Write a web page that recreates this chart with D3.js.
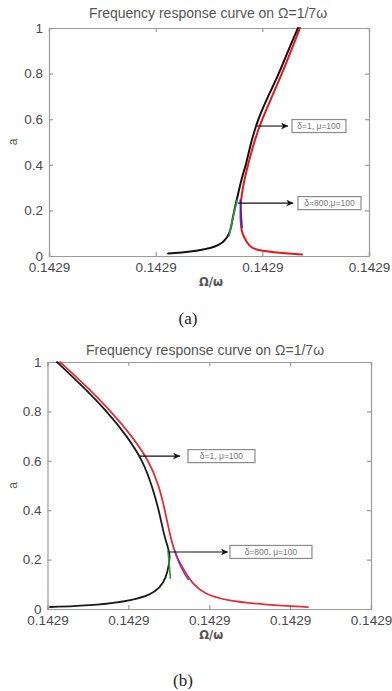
<!DOCTYPE html>
<html><head><meta charset="utf-8">
<script src="https://cdn.jsdelivr.net/npm/d3@7"></script>
<style>
html,body{margin:0;padding:0;background:#fff;}
svg{display:block;}
</style></head>
<body>
<svg id="chart" width="392" height="691"></svg>
<script>
// ---------- DATA ----------
const titleText = "Frequency response curve on \u03a9=1/7\u03c9";
const xLabel = "\u03a9/\u03c9";
const yLabel = "a";
const yTicks = [0, 0.2, 0.4, 0.6, 0.8, 1];
const yTickLabels = ["0", "0.2", "0.4", "0.6", "0.8", "1"];

// x values are offsets (×1e-6) from 0.142857 — all ticks read 0.1429
const xTicksA = [0, 1, 2, 3];
const xTickLabelsA = ["0.1429", "0.1429", "0.1429", "0.1429"];
const xTicksB = [0, 1, 2, 3, 4];
const xTickLabelsB = ["0.1429", "0.1429", "0.1429", "0.1429", "0.1429"];

// Panel (a)
const aBlackX = [1.116, 1.322, 1.537, 1.641, 1.697, 1.716, 1.737, 1.762, 1.786, 1.812, 1.847, 1.894, 1.959, 2.053, 2.156, 2.241, 2.334];
const aBlackY = [0.011, 0.018, 0.035, 0.06, 0.1, 0.15, 0.2, 0.25, 0.3, 0.35, 0.4, 0.5, 0.6, 0.7, 0.8, 0.9, 1.0];
const aRedX = [2.353, 2.269, 2.184, 2.091, 1.997, 1.922, 1.866, 1.828, 1.8, 1.795, 1.795, 1.8, 1.809, 1.856, 1.903, 1.95, 2.166, 2.372];
const aRedY = [1.0, 0.9, 0.8, 0.7, 0.6, 0.5, 0.4, 0.33, 0.25, 0.2, 0.17, 0.13, 0.1, 0.057, 0.035, 0.026, 0.013, 0.007];
const aGreenX = [1.69, 1.715, 1.74, 1.765];
const aGreenY = [0.09, 0.15, 0.2, 0.245];
const aBlueX = [1.792, 1.8, 1.805, 1.81];
const aBlueY = [0.245, 0.2, 0.16, 0.125];

// Panel (b)
const bBlackX = [0.031, 0.649, 1.057, 1.267, 1.391, 1.465, 1.502, 1.514, 1.489, 1.44, 1.378, 1.291, 1.18, 0.983, 0.736, 0.439, 0.117];
const bBlackY = [0.008, 0.016, 0.036, 0.057, 0.085, 0.126, 0.178, 0.22, 0.25, 0.3, 0.4, 0.5, 0.6, 0.7, 0.8, 0.9, 1.0];
const bRedX = [0.155, 0.488, 0.785, 1.044, 1.255, 1.378, 1.452, 1.514, 1.564, 1.613, 1.7, 1.799, 1.947, 2.194, 2.713, 3.22];
const bRedY = [1.0, 0.9, 0.8, 0.7, 0.6, 0.5, 0.4, 0.3, 0.24, 0.2, 0.15, 0.1, 0.06, 0.035, 0.016, 0.008];
const bGreenX = [1.49, 1.5, 1.51, 1.52];
const bGreenY = [0.235, 0.2, 0.16, 0.125];
const bPurpleX = [1.575, 1.62, 1.68, 1.74];
const bPurpleY = [0.235, 0.19, 0.15, 0.12];

// annotations: [xStart, xTip, y, boxX0, boxX1, text]
const aNotes = [
  [1.95, 2.241, 0.57, 2.278, 2.784, "\u03b4=1, \u03bc=100"],
  [1.77, 2.29, 0.232, 2.334, 2.925, "\u03b4=800,\u03bc=100"]
];
const bNotes = [
  [1.143, 1.638, 0.619, 1.737, 2.565, "\u03b4=1, \u03bc=100"],
  [1.489, 2.231, 0.231, 2.256, 3.27, "\u03b4=800, \u03bc=100"]
];

// ---------- DRAW ----------
const svg = d3.select("#chart");
const defs = svg.append("defs");
defs.append("marker").attr("id", "arr").attr("viewBox", "0 0 10 10")
  .attr("refX", 10).attr("refY", 5).attr("markerWidth", 9).attr("markerHeight", 7)
  .attr("markerUnits", "userSpaceOnUse").attr("orient", "auto")
  .append("path").attr("d", "M0,0 L10,5 L0,10 L3,5 Z").attr("fill", "#111");

function panel(cfg) {
  const g = svg.append("g");
  const x = d3.scaleLinear().domain(cfg.xDomain).range([cfg.left, cfg.right]);
  const y = d3.scaleLinear().domain([0, 1]).range([cfg.bottom, cfg.top]);
  const axCol = "#9a9a9a", txtCol = "#4a4a4a";

  // title
  g.append("text").attr("x", cfg.titleX).attr("y", cfg.titleY)
    .attr("text-anchor", "middle").attr("font-family", "Liberation Sans, Arial, sans-serif")
    .attr("font-size", 14).attr("fill", "#555").text(titleText);

  // axes (matlab box, inward ticks)
  const tl = 4;
  const bottomAx = d3.axisBottom(x).tickValues(cfg.xTicks).tickSize(-tl).tickPadding(6)
    .tickFormat((d, i) => cfg.xTickLabels[i]);
  const topAx = d3.axisTop(x).tickValues(cfg.xTicks).tickSize(-tl).tickFormat("");
  const leftAx = d3.axisLeft(y).tickValues(yTicks).tickSize(-tl).tickPadding(6)
    .tickFormat((d, i) => yTickLabels[i]);
  const rightAx = d3.axisRight(y).tickValues(yTicks).tickSize(-tl).tickFormat("");

  const styleAx = sel => {
    sel.selectAll("path,line").attr("stroke", axCol).attr("stroke-width", 1.2);
    sel.selectAll("text").attr("fill", txtCol).attr("font-size", 13.5)
      .attr("font-family", "Liberation Sans, Arial, sans-serif");
  };
  g.append("g").attr("transform", `translate(0,${cfg.bottom})`).call(bottomAx).call(styleAx);
  g.append("g").attr("transform", `translate(0,${cfg.top})`).call(topAx).call(styleAx);
  g.append("g").attr("transform", `translate(${cfg.left},0)`).call(leftAx).call(styleAx);
  g.append("g").attr("transform", `translate(${cfg.right},0)`).call(rightAx).call(styleAx);

  // labels
  g.append("text").attr("x", (cfg.left + cfg.right) / 2 + 2).attr("y", cfg.xLabelY)
    .attr("text-anchor", "middle").attr("font-family", "DejaVu Sans, sans-serif")
    .attr("font-size", 11.5).attr("font-weight", "bold").attr("fill", "#555").text(xLabel);
  g.append("text").attr("transform", `translate(17,${(cfg.top + cfg.bottom) / 2}) rotate(-90)`)
    .attr("text-anchor", "middle").attr("font-family", "Liberation Sans, Arial, sans-serif")
    .attr("font-size", 12).attr("fill", "#555").text(yLabel);

  // curves
  const line = d3.line().x(d => x(d[0])).y(d => y(d[1])).curve(d3.curveBasis);
  const clip = "clip" + cfg.id;
  defs.append("clipPath").attr("id", clip).append("rect")
    .attr("x", cfg.left).attr("y", cfg.top - 1).attr("width", cfg.right - cfg.left).attr("height", cfg.bottom - cfg.top + 1);
  const cg = g.append("g").attr("clip-path", `url(#${clip})`);
  cfg.series.forEach(s => {
    cg.append("path").datum(d3.zip(s.x, s.y)).attr("d", line)
      .attr("fill", "none").attr("stroke", s.color).attr("stroke-width", s.w)
      .attr("stroke-linecap", "round").attr("stroke-linejoin", "round");
  });

  // annotations
  cfg.notes.forEach(n => {
    const [xs, xt, yv, bx0, bx1, txt] = n;
    g.append("line").attr("x1", x(xs)).attr("x2", x(xt)).attr("y1", y(yv)).attr("y2", y(yv))
      .attr("stroke", "#111").attr("stroke-width", 1.1).attr("marker-end", "url(#arr)");
    const bh = 13;
    g.append("rect").attr("x", x(bx0)).attr("y", y(yv) - bh / 2)
      .attr("width", x(bx1) - x(bx0)).attr("height", bh)
      .attr("fill", "#fff").attr("stroke", "#8a8a8a").attr("stroke-width", 1.2);
    g.append("text").attr("x", (x(bx0) + x(bx1)) / 2).attr("y", y(yv) + 3)
      .attr("text-anchor", "middle").attr("font-family", "Liberation Sans, Arial, sans-serif")
      .attr("font-size", 8.5).attr("fill", "#777").text(txt);
  });

  // caption
  svg.append("text").attr("x", cfg.capX).attr("y", cfg.capY).attr("text-anchor", "middle")
    .attr("font-family", "Liberation Serif, Times New Roman, serif").attr("font-size", 17)
    .attr("fill", "#222").text(cfg.caption);
}

panel({
  id: "a", left: 49, right: 369, top: 28, bottom: 256,
  xDomain: [0, 3], xTicks: xTicksA, xTickLabelsA: null, xTickLabels: xTickLabelsA,
  titleX: 208, titleY: 18, xLabelY: 286, capX: 188, capY: 324, caption: "(a)",
  series: [
    { x: aRedX, y: aRedY, color: "#e8141a", w: 2.0 },
    { x: aBlackX, y: aBlackY, color: "#111", w: 2.0 },
    { x: aGreenX, y: aGreenY, color: "#2e9a3a", w: 1.6 },
    { x: aBlueX, y: aBlueY, color: "#2a2ae0", w: 1.6 }
  ],
  notes: aNotes
});

panel({
  id: "b", left: 47.5, right: 371, top: 362, bottom: 609,
  xDomain: [0, 4], xTicks: xTicksB, xTickLabels: xTickLabelsB,
  titleX: 205, titleY: 355, xLabelY: 639, capX: 183, capY: 686, caption: "(b)",
  series: [
    { x: bRedX, y: bRedY, color: "#e0303a", w: 1.8 },
    { x: bBlackX, y: bBlackY, color: "#1a1a1a", w: 1.8 },
    { x: bGreenX, y: bGreenY, color: "#2e9a3a", w: 1.6 },
    { x: bPurpleX, y: bPurpleY, color: "#8a3cb8", w: 1.6 }
  ],
  notes: bNotes
});
</script>
</body></html>
